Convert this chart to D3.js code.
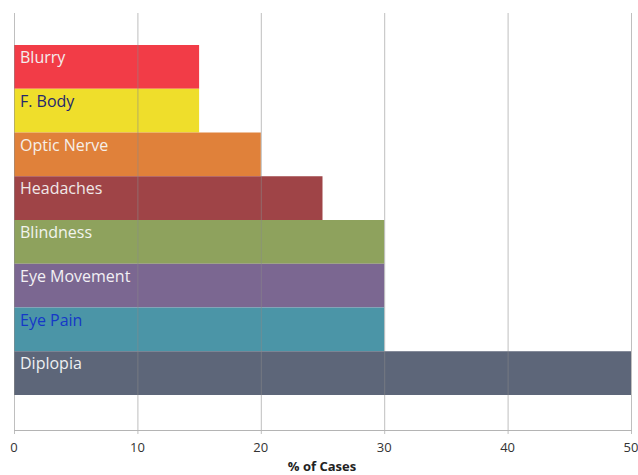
<!DOCTYPE html>
<html>
<head>
<meta charset="utf-8">
<script src="https://cdn.jsdelivr.net/npm/d3@7"></script>
<style>
  body { margin: 0; background: #fff; }
  text { font-family: "Open Sans", "Liberation Sans", sans-serif; }
</style>
</head>
<body>
<svg id="barChart" width="638" height="475"></svg>
<script>
(function barChart() {

    var symptoms = ["Blurry", "F. Body", "Optic Nerve", "Headaches", "Blindness", "Eye Movement", "Eye Pain", "Diplopia"];
    var percent = [15, 15, 20, 25, 30, 30, 30, 50];
    var barColors = ["#f23c47", "#efde2b", "#e0813a", "#9f4447", "#8ea25d", "#7b6791", "#4b95a7", "#5d6679"];
    var labelColors = ["#f4eeee", "#25266e", "#f6efe8", "#f0e8e8", "#f2f4ee", "#f2f0f4", "#1538c8", "#eef0f2"];
    var ticks = [0, 10, 20, 30, 40, 50];

    var svg = d3.select("#barChart");

    var x = d3.scaleLinear().domain([0, 50]).range([14, 631]);
    var y = d3.scaleBand().domain(symptoms).range([45, 395]).padding(0);

    var data = symptoms.map(function (s, i) {
        return { name: s, value: percent[i], color: barColors[i], label: labelColors[i] };
    });

    var bar = svg.selectAll(".bar")
        .data(data)
        .enter().append("g")
        .attr("class", "bar");

    bar.append("rect")
        .attr("x", x(0))
        .attr("y", function (d) { return y(d.name); })
        .attr("width", function (d) { return x(d.value) - x(0); })
        .attr("height", y.bandwidth())
        .attr("fill", function (d) { return d.color; });

    bar.append("text")
        .attr("x", x(0) + 6)
        .attr("y", function (d) { return y(d.name) + 18; })
        .attr("fill", function (d) { return d.label; })
        .style("font-size", "16px")
        .text(function (d) { return d.name; });

    // grid lines sit over the bars, faintly
    svg.append("g").selectAll("line")
        .data(ticks)
        .enter().append("line")
        .attr("x1", function (d) { return x(d) + 0.5; })
        .attr("x2", function (d) { return x(d) + 0.5; })
        .attr("y1", 13)
        .attr("y2", 434)
        .attr("stroke", "#8a8a8a")
        .attr("stroke-opacity", 0.55);

    svg.append("line")
        .attr("x1", x(0))
        .attr("x2", x(50) + 1)
        .attr("y1", 430.5)
        .attr("y2", 430.5)
        .attr("stroke", "#b4b4b4");

    svg.append("g").selectAll("text")
        .data(ticks)
        .enter().append("text")
        .attr("x", function (d) { return x(d); })
        .attr("y", 452)
        .attr("text-anchor", "middle")
        .attr("fill", "#333")
        .style("font-size", "13px")
        .text(function (d) { return d; });

    svg.append("text")
        .attr("x", 322)
        .attr("y", 471)
        .attr("text-anchor", "middle")
        .attr("fill", "#222")
        .style("font-size", "13px")
        .style("font-weight", "bold")
        .text("% of Cases");

}());
</script>
</body>
</html>
